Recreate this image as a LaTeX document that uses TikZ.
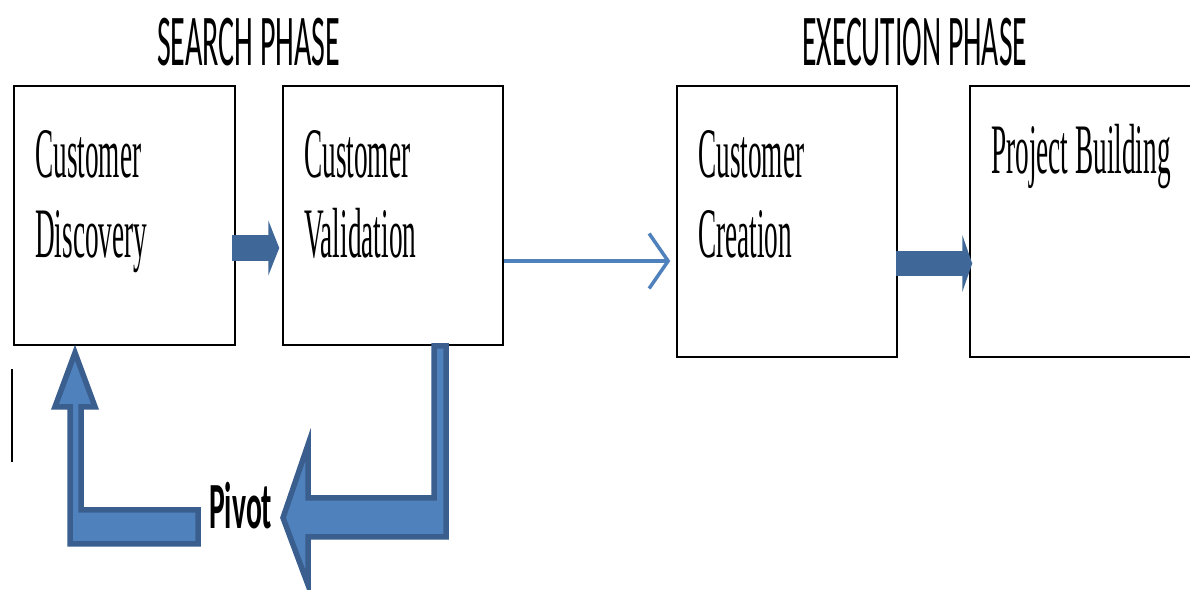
\documentclass[tikz,border=0pt]{standalone}
\usepackage{fontspec}
\setmainfont{Liberation Serif}
\newfontfamily\headfont{Carlito}
\usetikzlibrary{arrows.meta}
\definecolor{pivfill}{HTML}{4F81BD}
\definecolor{pivline}{HTML}{3A5F8F}
\definecolor{blockblue}{HTML}{3F6797}
\definecolor{thinblue}{HTML}{4F81BD}
% condensed serif text used inside the stage boxes
\newcommand\boxtxt[1]{\scalebox{0.384}[1]{\fontsize{71}{80}\selectfont #1}}
% condensed sans heading squeezed to a given width
\newcommand\headtxt[2]{\resizebox{#1}{\height}{\headfont\fontsize{73}{80}\selectfont #2}}
\begin{document}
\begin{tikzpicture}[x=1pt,y=-1pt,
  stage/.style={draw=black, line width=1.5pt, inner sep=0pt},
  lbl/.style={inner sep=0pt, anchor=base west},
  blockarrow/.style={draw=blockblue, line width=#1, line cap=butt},
  pivotarrow/.style={fill=pivfill, draw=pivline, line width=5.5pt, line join=miter}]
\useasboundingbox (0,0) rectangle (1190,589);
\fill[white] (0,0) rectangle (1190,589);

% stage boxes
\node[stage, minimum width=221pt, minimum height=259pt] (b1) at (124.5,215.5) {};
\node[stage, minimum width=220pt, minimum height=259pt] (b2) at (393,215.5) {};
\node[stage, minimum width=220pt, minimum height=271pt] (b3) at (787,221.5) {};
\node[stage, minimum width=223pt, minimum height=271pt] (b4) at (1081.5,221.5) {};

% phase headings
\node[lbl] (h1) at (157,65) {\headtxt{183pt}{SEARCH PHASE}};
\node[lbl] (h2) at (802,65) {\headtxt{225pt}{EXECUTION PHASE}};

% box labels
\node[lbl] (t1a) at (35,177) {\boxtxt{Customer}};
\node[lbl] (t1b) at (35,257) {\boxtxt{Discovery}};
\node[lbl] (t2a) at (304,177) {\boxtxt{Customer}};
\node[lbl] (t2b) at (304,257) {\boxtxt{Validation}};
\node[lbl] (t3a) at (698,177) {\boxtxt{Customer}};
\node[lbl] (t3b) at (698,257) {\boxtxt{Creation}};
\node[lbl] (t4a) at (991,173) {\boxtxt{Project Building}};

% forward arrows
\draw[blockarrow=26pt, -{Triangle[length=11pt,width=55pt]}]
  ([shift={(-4,32.5)}]b1.east) -- ([shift={(-3,32.5)}]b2.west);
\draw[thinblue, line width=3.5pt, -{Straight Barb[length=19pt,width=55pt]}]
  ([shift={(0,45.5)}]b2.east) -- ([shift={(-6,39.5)}]b3.west);
\draw[blockarrow=25pt, -{Triangle[length=10pt,width=57pt]}]
  ([shift={(-2,42)}]b3.east) -- ([shift={(3,42)}]b4.west);

% pivot loop: down from validation, back to discovery
\begin{scope}[shift={(b2.south)}]
  \draw[pivotarrow] (41,0) -- (53,0) -- (53,191) -- (-85,191) -- (-85,239)
    -- (-110,172) -- (-85,99) -- (-85,152) -- (41,152) -- cycle;
\end{scope}
\begin{scope}[shift={(b1.south)}]
  \draw[pivotarrow] (-49.5,7) -- (-29.5,61) -- (-43.5,61) -- (-43.5,164)
    -- (73.5,164) -- (73.5,198) -- (-54.5,198) -- (-54.5,61) -- (-69.5,61) -- cycle;
\end{scope}
\node[lbl] (pv) at (209,528) {\resizebox{63pt}{\height}{\headfont\bfseries\fontsize{66}{68}\selectfont Pivot}};

% stray mark at the left edge
\draw[line width=1.5pt] (12,369) -- (12,462);
\end{tikzpicture}
\end{document}
